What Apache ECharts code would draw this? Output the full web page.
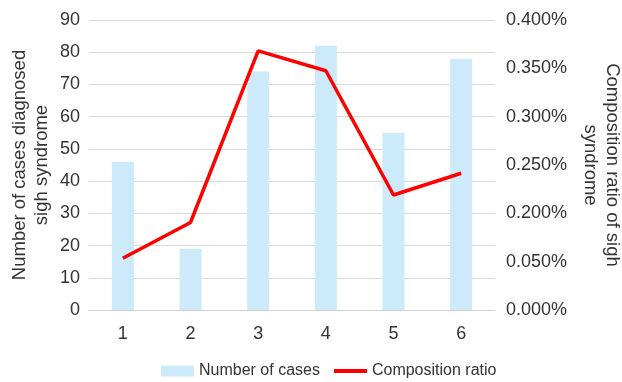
<!DOCTYPE html>
<html lang="en">
<head>
    <meta charset="UTF-8">
    <title>Sigh syndrome</title>
    <script src="https://cdn.jsdelivr.net/npm/echarts@6/dist/echarts.min.js"></script>
    <style>
        html, body { margin: 0; padding: 0; background: #fff; }
        #container { width: 622px; height: 382px; }
    </style>
</head>
<body>
    <div id="container"></div>
</body>
<script>
    // categories and values
    var categories = ['1', '2', '3', '4', '5', '6'];
    var cases = [46, 19, 74, 82, 55, 78];
    // right axis tick labels as printed (not evenly spaced in value)
    var ratioTicks = ['0.000%', '0.050%', '0.200%', '0.250%', '0.300%', '0.350%', '0.400%'];
    // line positions, in units of the right axis ticks above
    var ratioPos = [1.07, 1.81, 5.36, 4.95, 2.38, 2.83];

    var chart = echarts.init(document.getElementById('container'));
    var font = 'Liberation Sans, Arial, sans-serif';

    chart.setOption({
        animation: false,
        textStyle: { fontFamily: font },
        grid: { left: 89, right: 127, top: 20, bottom: 72, outerBoundsMode: 'none', containLabel: false },
        legend: {
            top: 358,
            left: 156,
            itemGap: 12,
            itemWidth: 33,
            itemHeight: 11,
            textStyle: { fontSize: 16, color: '#333', fontFamily: font },
            data: [
                { name: 'Number of cases', icon: 'rect' },
                { name: 'Composition ratio', itemStyle: { opacity: 0 }, lineStyle: { width: 4 } }
            ]
        },
        xAxis: {
            type: 'category',
            data: categories,
            axisTick: { show: false },
            axisLine: { lineStyle: { color: '#d0d0d0', width: 1 } },
            axisLabel: { fontSize: 18, color: '#333', margin: 15, fontFamily: font }
        },
        yAxis: [
            {
                type: 'value',
                min: 0, max: 90, interval: 10,
                name: 'Number of cases diagnosed\nsigh syndrome',
                nameLocation: 'middle',
                nameRotate: 90,
                nameGap: 36,
                nameMoveOverlap: false,
                nameTextStyle: { fontSize: 18.5, color: '#333', lineHeight: 22, fontFamily: font },
                axisLabel: { fontSize: 18, color: '#333', margin: 9, fontFamily: font },
                axisLine: { show: false },
                axisTick: { show: false },
                splitLine: { lineStyle: { color: '#d9d9d9', width: 1 } }
            },
            {
                type: 'value',
                min: 0, max: 6, interval: 1,
                name: 'Composition ratio of sigh\nsyndrome',
                nameLocation: 'middle',
                nameRotate: -90,
                nameGap: 84,
                nameMoveOverlap: false,
                nameTextStyle: { fontSize: 18.5, color: '#333', lineHeight: 22, fontFamily: font },
                axisLabel: {
                    fontSize: 18, color: '#333', margin: 11, fontFamily: font,
                    formatter: function (v) { return ratioTicks[Math.round(v)]; }
                },
                axisLine: { show: false },
                axisTick: { show: false },
                splitLine: { show: false }
            }
        ],
        series: [
            {
                name: 'Number of cases',
                type: 'bar',
                data: cases,
                barWidth: 22,
                itemStyle: { color: '#cdeafa' }
            },
            {
                name: 'Composition ratio',
                type: 'line',
                yAxisIndex: 1,
                data: ratioPos,
                symbol: 'none',
                lineStyle: { color: '#ff0000', width: 3.5 },
                itemStyle: { color: '#ff0000' }
            }
        ]
    });
</script>
</html>
